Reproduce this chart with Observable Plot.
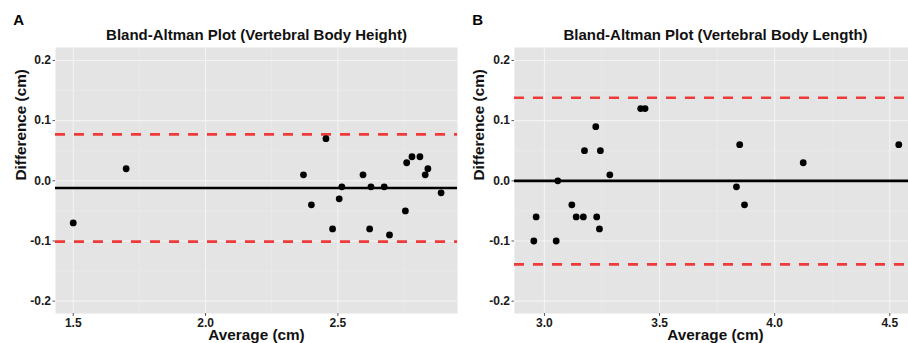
<!DOCTYPE html>
<html>
<head>
<meta charset="utf-8">
<script src="https://cdn.jsdelivr.net/npm/d3@7"></script>
<script src="https://cdn.jsdelivr.net/npm/@observablehq/plot@0.6"></script>
<style>
  html, body { margin: 0; padding: 0; background: #fff; }
  #wrap { position: relative; width: 908px; height: 343px; overflow: hidden; background: #fff; }
  #wrap svg { position: absolute; top: 0; }
</style>
</head>
<body>
<div id="wrap"></div>
<script>
// ---- Data ----
const heightAvg  = [1.50, 1.70, 2.37, 2.40, 2.455, 2.48, 2.505, 2.515, 2.595, 2.62, 2.625, 2.675, 2.695, 2.755, 2.76, 2.78, 2.81, 2.83, 2.84, 2.89];
const heightDiff = [-0.07, 0.02, 0.01, -0.04, 0.07, -0.08, -0.03, -0.01, 0.01, -0.08, -0.01, -0.01, -0.09, -0.05, 0.03, 0.04, 0.04, 0.01, 0.02, -0.02];
const heightMean = -0.012;
const heightLoA  = [0.077, -0.101];

const lengthAvg  = [2.964, 2.954, 3.051, 3.058, 3.119, 3.138, 3.169, 3.174, 3.223, 3.227, 3.239, 3.243, 3.284, 3.418, 3.437, 3.834, 3.848, 3.869, 4.124, 4.539];
const lengthDiff = [-0.06, -0.10, -0.10, 0.00, -0.04, -0.06, -0.06, 0.05, 0.09, -0.06, -0.08, 0.05, 0.01, 0.12, 0.12, -0.01, 0.06, -0.04, 0.03, 0.06];
const lengthMean = 0.0;
const lengthLoA  = [0.138, -0.139];

const yTicks      = [-0.2, -0.1, 0.0, 0.1, 0.2];
const yMinorTicks = [-0.15, -0.05, 0.05, 0.15];
const heightXTicks      = [1.5, 2.0, 2.5];
const heightXMinorTicks = [1.75, 2.25, 2.75];
const lengthXTicks      = [3.0, 3.5, 4.0, 4.5];
const lengthXMinorTicks = [3.25, 3.75, 4.25];

const titles = ["Bland-Altman Plot (Vertebral Body Height)", "Bland-Altman Plot (Vertebral Body Length)"];
const panelLabels = ["A", "B"];
const xLabel = "Average (cm)";
const yLabel = "Difference (cm)";

// ---- Drawing ----
const FONT = "'Liberation Sans', Arial, Helvetica, sans-serif";
const RED = "#f03a3a";
const BG = "#e4e4e4";

function panel({avg, diff, mean, loa, xDomain, xTicks, xMinor, title, tag, width, marginLeft, marginRight, tagX, ylabX, titleDx}) {
  const pts = avg.map((a, i) => ({avg: a, diff: diff[i]}));
  const top = 47, bottom = 30;
  return Plot.plot({
    width, height: 343,
    marginLeft, marginRight, marginTop: top, marginBottom: bottom,
    style: {fontFamily: FONT, background: "transparent", overflow: "visible"},
    x: {domain: xDomain},
    y: {domain: [-0.2205, 0.2215]},
    marks: [
      Plot.frame({fill: BG, stroke: null}),
      Plot.gridX(xMinor, {stroke: "#ededed", strokeOpacity: 1, strokeWidth: 0.6}),
      Plot.gridY(yMinorTicks, {stroke: "#ededed", strokeOpacity: 1, strokeWidth: 0.6}),
      Plot.gridX(xTicks, {stroke: "#f3f3f3", strokeOpacity: 1, strokeWidth: 1.1}),
      Plot.gridY(yTicks, {stroke: "#f3f3f3", strokeOpacity: 1, strokeWidth: 1.1}),
      Plot.axisY(yTicks, {tickFormat: d => d.toFixed(1), tickSize: 2.5, tickPadding: 2, fontSize: 12, fontWeight: "bold", fill: "#1a1a1a", stroke: "#555", label: null}),
      Plot.axisX(xTicks, {tickFormat: d => d.toFixed(1), tickSize: 3, tickPadding: 1.5, fontSize: 12, fontWeight: "bold", fill: "#1a1a1a", stroke: "#555", label: null}),
      Plot.ruleY(loa, {stroke: RED, strokeWidth: 2.7, strokeDasharray: "10,9"}),
      Plot.ruleY([mean], {stroke: "#000", strokeWidth: 2.7}),
      Plot.dot(pts, {x: "avg", y: "diff", r: 3.4, fill: "#000", stroke: null}),
      Plot.text([title], {frameAnchor: "top", dx: titleDx, dy: -8, lineAnchor: "bottom", fontSize: 15, fontWeight: "bold", fill: "#111"}),
      Plot.text([xLabel], {frameAnchor: "bottom", dx: titleDx, dy: 26, lineAnchor: "bottom", fontSize: 15.3, fontWeight: "bold", fill: "#111"}),
      Plot.text([yLabel], {frameAnchor: "left", dx: ylabX - marginLeft, rotate: -90, lineAnchor: "bottom", fontSize: 15.3, fontWeight: "bold", fill: "#111"}),
      Plot.text([tag], {frameAnchor: "top-left", dx: tagX - marginLeft, dy: 24 - top, textAnchor: "start", lineAnchor: "bottom", fontSize: 15, fontWeight: "bold", fill: "#000"})
    ]
  });
}

const wrap = document.getElementById("wrap");

const a = panel({
  avg: heightAvg, diff: heightDiff, mean: heightMean, loa: heightLoA,
  xDomain: [1.433, 2.952], xTicks: heightXTicks, xMinor: heightXMinorTicks,
  title: titles[0], tag: panelLabels[0],
  width: 460, marginLeft: 55, marginRight: 3, tagX: 12.7, ylabX: 25, titleDx: 0
});
a.style.left = "0px";
wrap.appendChild(a);

const b = panel({
  avg: lengthAvg, diff: lengthDiff, mean: lengthMean, loa: lengthLoA,
  xDomain: [2.87, 4.616], xTicks: lengthXTicks, xMinor: lengthXMinorTicks,
  title: titles[1], tag: panelLabels[1],
  width: 456, marginLeft: 54, marginRight: 0, tagX: 11.7, ylabX: 23, titleDx: 0
});
b.style.left = "460px";
wrap.appendChild(b);
</script>
</body>
</html>
